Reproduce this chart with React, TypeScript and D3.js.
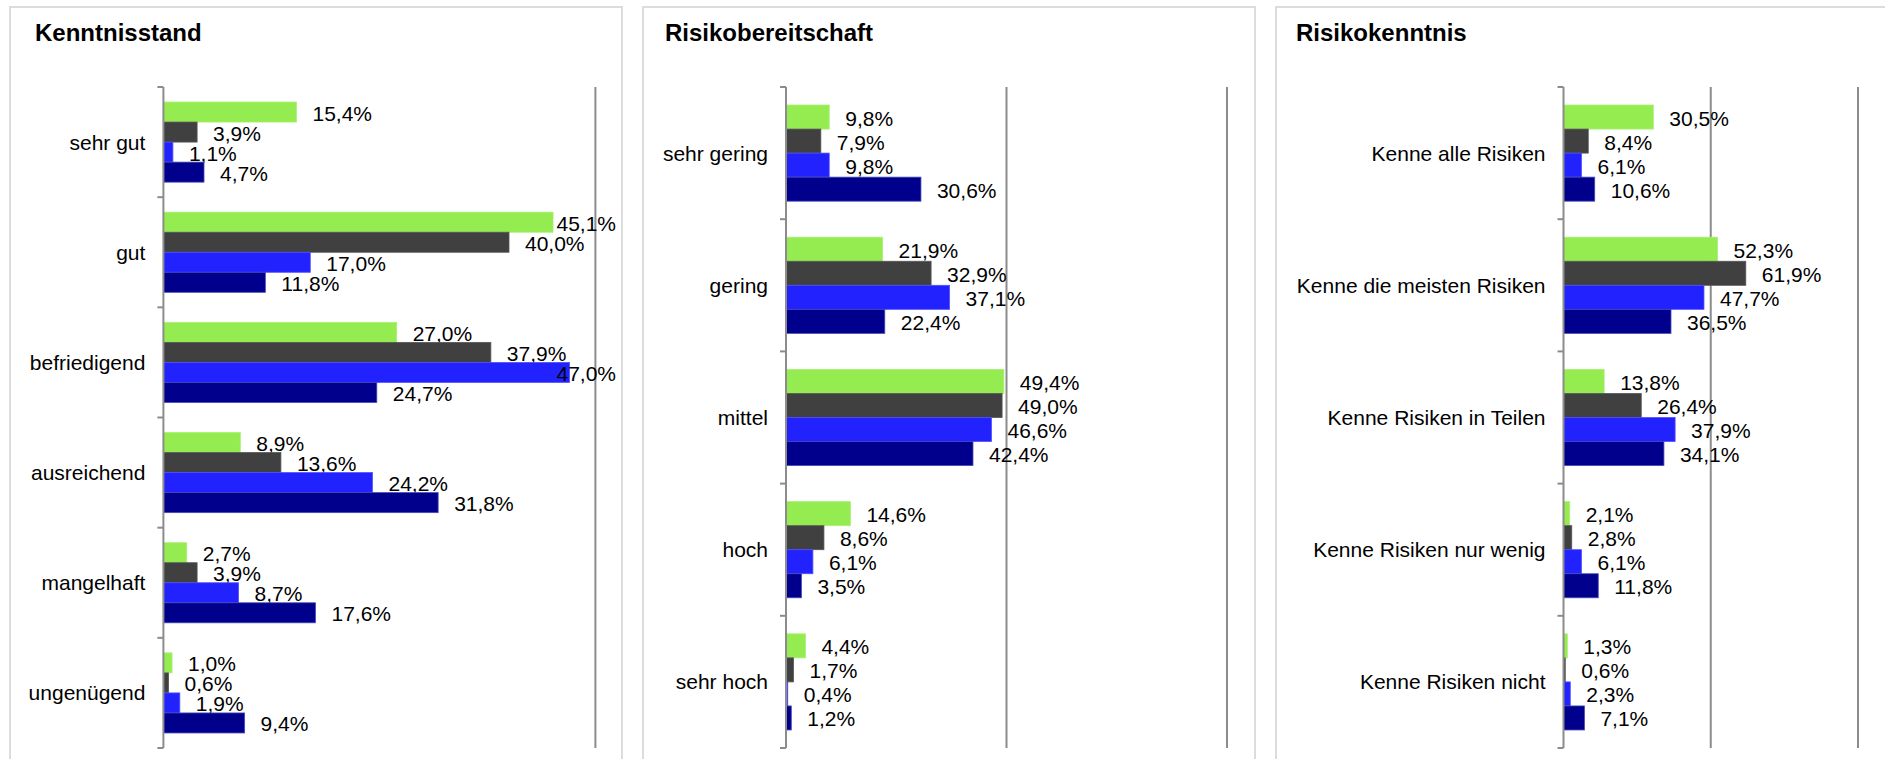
import React from "react";
import * as d3 from "d3";

// ---- data ----
const kenntCats = ["sehr gut", "gut", "befriedigend", "ausreichend", "mangelhaft", "ungenügend"];
const kenntGreen = [15.4, 45.1, 27.0, 8.9, 2.7, 1.0];
const kenntDark = [3.9, 40.0, 37.9, 13.6, 3.9, 0.6];
const kenntBlue = [1.1, 17.0, 47.0, 24.2, 8.7, 1.9];
const kenntNavy = [4.7, 11.8, 24.7, 31.8, 17.6, 9.4];

const risikoCats = ["sehr gering", "gering", "mittel", "hoch", "sehr hoch"];
const risikoGreen = [9.8, 21.9, 49.4, 14.6, 4.4];
const risikoDark = [7.9, 32.9, 49.0, 8.6, 1.7];
const risikoBlue = [9.8, 37.1, 46.6, 6.1, 0.4];
const risikoNavy = [30.6, 22.4, 42.4, 3.5, 1.2];

const wissenCats = [
  "Kenne alle Risiken",
  "Kenne die meisten Risiken",
  "Kenne Risiken in Teilen",
  "Kenne Risiken nur wenig",
  "Kenne Risiken nicht",
];
const wissenGreen = [30.5, 52.3, 13.8, 2.1, 1.3];
const wissenDark = [8.4, 61.9, 26.4, 2.8, 0.6];
const wissenBlue = [6.1, 47.7, 37.9, 6.1, 2.3];
const wissenNavy = [10.6, 36.5, 34.1, 11.8, 7.1];

const seriesColors = ["#95EC50", "#404040", "#2222FF", "#00008C"];
const seriesStrokes = ["#a8f070", "#555555", "#5050ff", "#4848b8"];

const titles = ["Kenntnisstand", "Risikobereitschaft", "Risikokenntnis"];

// ---- layout ----
const W = 1885;
const H = 759;
const FONT = "'Liberation Sans', Arial, Helvetica, sans-serif";
const plotTop = 87;
const plotBottom = 748;

type PanelDef = {
  title: string;
  titleX: number;
  cats: string[];
  series: number[][];
  left: number;
  right: number;
  x0: number;
  x1: number;
  max: number;
  grid: number[];
};

const panels: PanelDef[] = [
  {
    title: titles[0],
    titleX: 35,
    cats: kenntCats,
    series: [kenntGreen, kenntDark, kenntBlue, kenntNavy],
    left: 10,
    right: 622,
    x0: 163.4,
    x1: 595.4,
    max: 50,
    grid: [50],
  },
  {
    title: titles[1],
    titleX: 665,
    cats: risikoCats,
    series: [risikoGreen, risikoDark, risikoBlue, risikoNavy],
    left: 643,
    right: 1255,
    x0: 786,
    x1: 1227,
    max: 100,
    grid: [50, 100],
  },
  {
    title: titles[2],
    titleX: 1296,
    cats: wissenCats,
    series: [wissenGreen, wissenDark, wissenBlue, wissenNavy],
    left: 1276,
    right: 1888,
    x0: 1563.5,
    x1: 1858,
    max: 100,
    grid: [50, 100],
  },
];

const fmt = (v: number) => d3.format(".1f")(v).replace(".", ",") + "%";

let measureCtx: CanvasRenderingContext2D | null = null;
function textWidth(s: string, size: number) {
  if (!measureCtx) {
    const c = document.createElement("canvas");
    measureCtx = c.getContext("2d");
  }
  if (!measureCtx) return s.length * size * 0.56;
  measureCtx.font = `${size}px ${FONT}`;
  return measureCtx.measureText(s).width;
}

function Panel({ p }: { p: PanelDef }) {
  const x = d3.scaleLinear().domain([0, p.max]).range([p.x0, p.x1]);
  const y = d3.scaleBand<string>().domain(p.cats).range([plotTop, plotBottom]).padding(0);
  const bw = y.bandwidth();
  const inner = d3
    .scaleBand<number>()
    .domain(d3.range(p.series.length))
    .range([bw * (3 / 22), bw * (19 / 22)])
    .padding(0);
  const bh = inner.bandwidth();
  const ticks = p.cats.map((c) => y(c) as number).concat([plotBottom]);
  const fs = 21;
  const clampRight = p.right - 6;

  return (
    <g>
      <rect
        x={p.left}
        y={7}
        width={p.right - p.left}
        height={H + 20}
        fill="#fff"
        stroke="#dcdcdc"
        strokeWidth={2}
      />
      <text
        x={p.titleX}
        y={41}
        fontFamily={FONT}
        fontWeight="bold"
        fontSize={24}
        fill="#000"
      >
        {p.title}
      </text>
      {p.grid.map((g) => (
        <line
          key={g}
          x1={x(g)}
          x2={x(g)}
          y1={plotTop}
          y2={plotBottom}
          stroke="#8c8c8c"
          strokeWidth={2}
        />
      ))}
      {p.cats.map((c, ci) => (
        <g key={c}>
          <text
            x={p.x0 - 18}
            y={(y(c) as number) + bw / 2 + 7.5}
            textAnchor="end"
            fontFamily={FONT}
            fontSize={fs}
            fill="#000"
          >
            {c}
          </text>
          {p.series.map((s, si) => {
            const v = s[ci];
            const by = (y(c) as number) + (inner(si) as number);
            const end = x(v);
            const label = fmt(v);
            const tw = textWidth(label, fs);
            const lx = Math.min(end + 16, clampRight - tw);
            return (
              <g key={si}>
                <rect
                  x={x(0)}
                  y={by}
                  width={Math.max(0, end - x(0))}
                  height={bh}
                  fill={seriesColors[si]}
                  stroke={seriesStrokes[si]}
                  strokeWidth={0.8}
                />
                <text
                  x={lx}
                  y={by + bh / 2 + 8.5}
                  fontFamily={FONT}
                  fontSize={fs}
                  fill="#000"
                >
                  {label}
                </text>
              </g>
            );
          })}
        </g>
      ))}
      <line x1={p.x0} x2={p.x0} y1={plotTop} y2={plotBottom} stroke="#8c8c8c" strokeWidth={2} />
      {ticks.map((t, i) => (
        <line key={i} x1={p.x0 - 6} x2={p.x0} y1={t} y2={t} stroke="#8c8c8c" strokeWidth={2} />
      ))}
    </g>
  );
}

export default function App() {
  return (
    <div style={{ position: "absolute", left: 0, top: 0, width: W, height: H, overflow: "hidden" }}>
      <svg width={W} height={H} style={{ display: "block", background: "#fff" }}>
        {panels.map((p) => (
          <Panel key={p.title} p={p} />
        ))}
      </svg>
    </div>
  );
}
